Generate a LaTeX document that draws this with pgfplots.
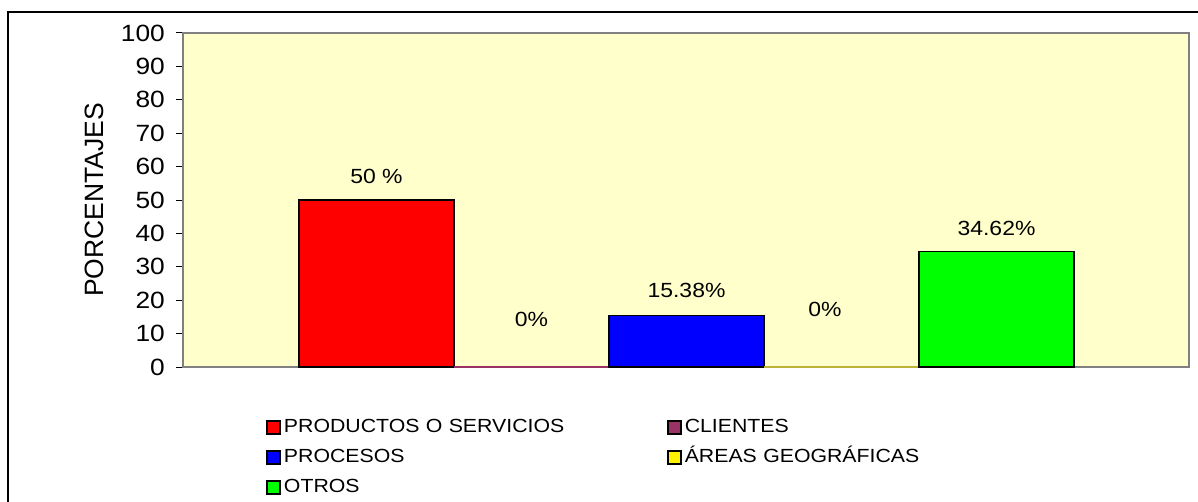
\documentclass[border=0pt]{standalone}
\usepackage{pgfplots}
\pgfplotsset{compat=1.18}
\usepackage{fontspec}
\setmainfont{Liberation Sans}[FakeStretch=1.12]
\newfontfamily\plainfont{Liberation Sans}

\definecolor{bgyellow}{RGB}{255,255,204}
\definecolor{cliente}{RGB}{153,51,102}
\definecolor{frameGray}{RGB}{128,128,128}

\begin{document}
\begin{tikzpicture}
  \useasboundingbox (-183pt,-134pt) rectangle (1015pt,367pt);
  \begin{scope}
    \clip (-183pt,-134pt) rectangle (1015pt,367pt);
    \draw[line width=1.3pt, black] (-175pt,-150pt) -- (-175pt,355pt) -- (1030pt,355pt);
  \end{scope}
  \begin{axis}[
      at={(0pt,0pt)}, anchor=south west,
      scale only axis,
      width=1006pt, height=334pt,
      xmin=0, xmax=1006,
      ymin=0, ymax=100,
      ybar, bar width=155, bar shift=0pt,
      xtick=\empty,
      ytick={0,10,...,100},
      ytick pos=left,
      tick align=outside,
      major tick length=7pt,
      y tick style={black, line width=1pt},
      axis background/.style={fill=bgyellow},
      axis line style={draw=frameGray, line width=1.5pt},
      /pgf/number format/assume math mode=true,
      yticklabel style={font=\fontsize{23.5}{25}\selectfont, inner sep=0pt, xshift=-11pt},
      ylabel={PORCENTAJES},
      every axis y label/.style={at={(axis description cs:-0.0885,0.5)}, rotate=90, anchor=center,
        font=\plainfont\fontsize{26.5}{29}\selectfont},
      legend columns=2,
      legend style={at={(axis description cs:0.0825,-0.153)}, anchor=north west,
        draw=none, fill=none, inner sep=0pt, font=\fontsize{19}{20}\selectfont,
        row sep=12pt,
        nodes={inner xsep=3pt, inner ysep=0pt, text height=14pt, text depth=4pt,
          text width=380pt, align=left}},
      legend image code/.code={\draw[#1, draw=black, line width=1.8pt] (0pt,-6.5pt) rectangle (13pt,6.5pt);},
      every axis plot/.append style={draw=black, line width=1.3pt},
    ]
    \addplot[fill=red] coordinates {(193.5,50)};
    \addplot[fill=cliente, draw=cliente] coordinates {(348.5,0)};
    \addplot[fill=blue] coordinates {(503.5,15.38)};
    \addplot[fill=yellow, draw=yellow!70!black] coordinates {(658.5,0)};
    \addplot[fill=green] coordinates {(813.5,34.62)};
    \legend{PRODUCTOS O SERVICIOS, CLIENTES, PROCESOS, ÁREAS GEOGRÁFICAS, OTROS}

    \begin{scope}[every node/.style={font=\fontsize{20.5}{24}\selectfont}]
      \node at (axis cs:193.5,57.2) {50 \%};
      \node at (axis cs:348.5,14.1) {0\%};
      \node at (axis cs:503.5,22.8) {15.38\%};
      \node at (axis cs:642,17.1) {0\%};
      \node at (axis cs:813.5,41.6) {34.62\%};
    \end{scope}
  \end{axis}
\end{tikzpicture}
\end{document}
